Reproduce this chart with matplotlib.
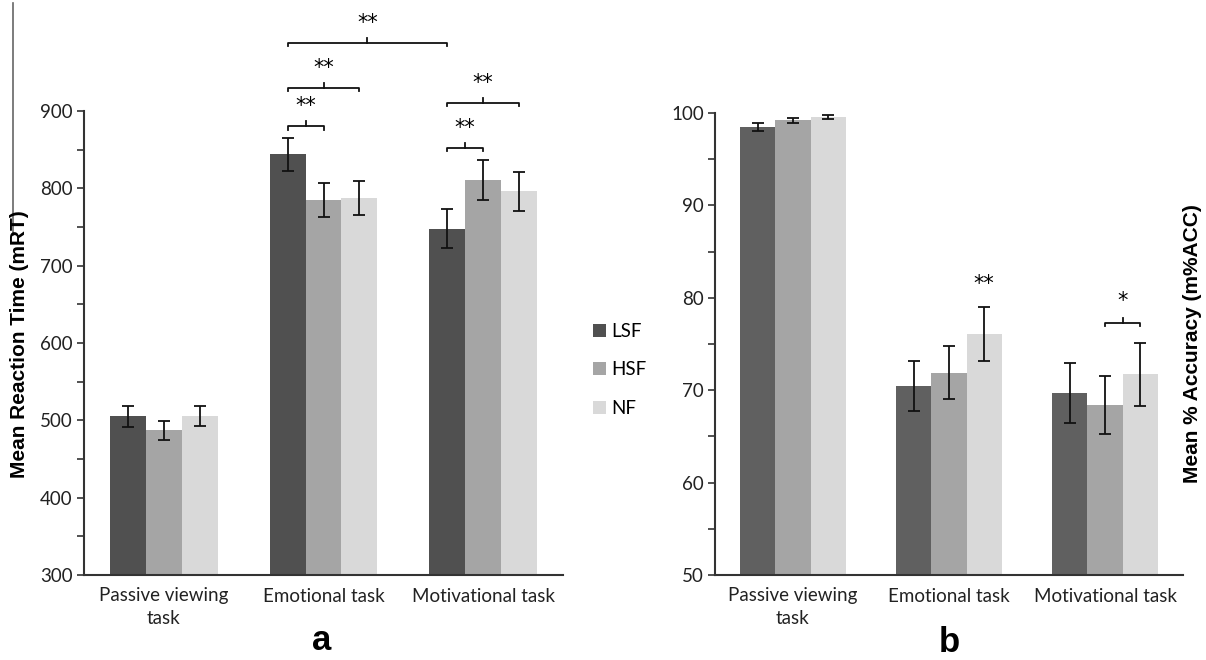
import numpy as np
import matplotlib.pyplot as plt
from matplotlib.lines import Line2D
from matplotlib.patches import Patch
from matplotlib.ticker import MultipleLocator

# tarefas e condicoes de frequencia espacial
tasks = ['Passive viewing\ntask', 'Emotional task', 'Motivational task']
freqs = ['LSF', 'HSF', 'NF']

# (a) tempo de reacao medio (mRT)
lsf_rt = [505, 844, 748]
hsf_rt = [487, 785, 811]
nf_rt = [506, 787, 796]
lsf_rt_err = [13.5, 21, 25]
hsf_rt_err = [12, 22, 26]
nf_rt_err = [13, 22, 25]

# (b) acuracia media (m%ACC)
lsf_acc = [98.5, 70.5, 69.7]
hsf_acc = [99.2, 71.9, 68.4]
nf_acc = [99.55, 76.1, 71.7]
lsf_acc_err = [0.4, 2.7, 3.2]
hsf_acc_err = [0.3, 2.85, 3.15]
nf_acc_err = [0.25, 2.9, 3.4]

# comparacoes significativas: (tarefa, cond) -> (tarefa, cond), altura, rotulo
rt_sig = [((1, 0), (1, 1), 880, '**'),
          ((1, 0), (1, 2), 930, '**'),
          ((1, 0), (2, 0), 988, '**'),
          ((2, 0), (2, 1), 852, '**'),
          ((2, 0), (2, 2), 910, '**')]
acc_sig = [((2, 1), (2, 2), 77.3, '*')]

cores_a = ['#505050', '#a5a5a5', '#d9d9d9']
cores_b = ['#606060', '#a5a5a5', '#d9d9d9']
W, H = 1206, 660
largura = 0.225
x = np.arange(len(tasks))

plt.rcParams['font.family'] = ['Lato', 'DejaVu Sans']
fig = plt.figure(figsize=(W / 100, H / 100), dpi=100)
ax1 = fig.add_axes([84 / W, 1 - 575 / H, 479 / W, 464 / H])
ax2 = fig.add_axes([715 / W, 1 - 575 / H, 468 / W, 462 / H])


def barras(ax, series, erros, cores):
    for i, (vals, errs) in enumerate(zip(series, erros)):
        pos = x + (i - 1) * largura
        ax.bar(pos, vals, largura, color=cores[i], zorder=2)
        ax.errorbar(pos, vals, yerr=errs, fmt='none', ecolor='#111111',
                    elinewidth=1.3, capsize=4, capthick=1.3, zorder=3)


def colchete(ax, a, b, y, rotulo, perna, tique, dy_txt):
    xa = a[0] + (a[1] - 1) * largura
    xb = b[0] + (b[1] - 1) * largura
    ax.plot([xa, xa, xb, xb], [y - perna, y, y, y - perna], color='#111111',
            lw=1.3, clip_on=False, zorder=4)
    xm = (xa + xb) / 2
    ax.plot([xm, xm], [y, y + tique], color='#111111', lw=1.3, clip_on=False)
    ax.text(xm, y + dy_txt, rotulo, ha='center', va='center', fontsize=15,
            family='DejaVu Sans', clip_on=False)


def estilo(ax, lo, hi, passo):
    ax.set_xlim(-0.5, 2.5)
    ax.set_ylim(lo, hi)
    ax.yaxis.set_major_locator(MultipleLocator(passo))
    ax.yaxis.set_minor_locator(MultipleLocator(passo / 2))
    for s in ['top', 'right']:
        ax.spines[s].set_visible(False)
    for s in ['left', 'bottom']:
        ax.spines[s].set_color('#333333')
        ax.spines[s].set_linewidth(1.5)
    ax.tick_params(axis='y', which='both', length=5, width=1.2,
                   color='#333333', labelsize=13.5, labelcolor='#222222', pad=3)
    ax.tick_params(axis='x', length=0, labelsize=13.5, labelcolor='#222222', pad=9)
    ax.set_xticks(x)
    ax.set_xticklabels(tasks, linespacing=1.4)


barras(ax1, [lsf_rt, hsf_rt, nf_rt], [lsf_rt_err, hsf_rt_err, nf_rt_err], cores_a)
estilo(ax1, 300, 900, 100)
for a, b, y, r in rt_sig:
    colchete(ax1, a, b, y, r, 4, 6.5, 26)

barras(ax2, [lsf_acc, hsf_acc, nf_acc], [lsf_acc_err, hsf_acc_err, nf_acc_err], cores_b)
estilo(ax2, 50, 100, 10)
for a, b, y, r in acc_sig:
    colchete(ax2, a, b, y, r, 0.33, 0.55, 2.4)
# asteriscos sobre o NF da tarefa emocional
ax2.text(x[1] + largura, nf_acc[1] + nf_acc_err[1] + 2.5, '**', ha='center',
         va='center', fontsize=15, family='DejaVu Sans')

fonte_rot = dict(fontsize=15, fontweight='bold', family='Liberation Sans')
fig.text(20 / W, 1 - 344 / H, 'Mean Reaction Time (mRT)', rotation=90,
         ha='center', va='center', **fonte_rot)
fig.text(1192 / W, 1 - 344 / H, 'Mean % Accuracy (m%ACC)', rotation=90,
         ha='center', va='center', **fonte_rot)
fig.text(322 / W, 1 - 640 / H, 'a', ha='center', va='center', fontsize=25,
         fontweight='bold', family='Liberation Sans')
fig.text(949 / W, 1 - 642 / H, 'b', ha='center', va='center', fontsize=25,
         fontweight='bold', family='Liberation Sans')

alcas = [Patch(facecolor=c, edgecolor='none') for c in cores_a]
fig.legend(alcas, freqs, loc='center left', bbox_to_anchor=(576 / W, 1 - 370 / H),
           frameon=False, fontsize=13.5, handlelength=0.7, handleheight=0.7,
           handletextpad=0.3, labelspacing=1.15)

# traco vertical solto no canto superior esquerdo da figura original
fig.add_artist(Line2D([13 / W, 13 / W], [1 - 3 / H, 1 - 235 / H],
                      color='#666666', lw=1.2))

fig.savefig('out.png', dpi=100)
